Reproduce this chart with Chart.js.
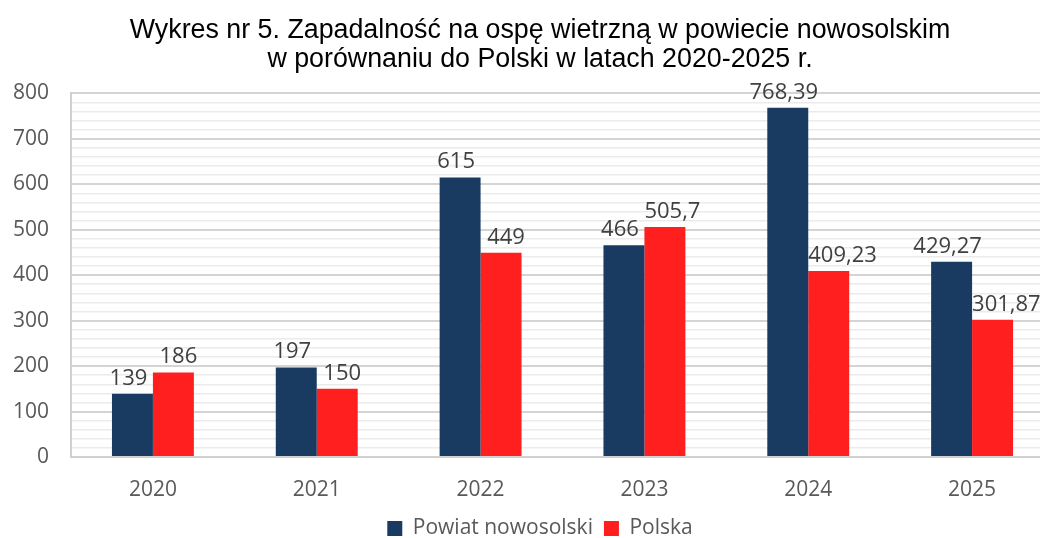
<!DOCTYPE html>
<html>
<head>
<meta charset="utf-8">
<script src="https://cdn.jsdelivr.net/npm/chart.js@4"></script>
<style>
    html, body { margin: 0; padding: 0; background: #fff; overflow: hidden; }
    #wrap { width: 1080px; height: 549px; position: relative; }
</style>
</head>
<body>
<div id="wrap"><canvas id="chart"></canvas></div>
<script>
// dane
const years = ['2020', '2021', '2022', '2023', '2024', '2025'];
const powiat = [139, 197, 615, 466, 768.39, 429.27];
const polska = [186, 150, 449, 505.7, 409.23, 301.87];
const titleLines = [
    'Wykres nr 5. Zapadalność na ospę wietrzną w powiecie nowosolskim',
    'w porównaniu do Polski w latach 2020-2025 r.'
];

const labelFont = '"Open Sans", "Noto Sans", sans-serif';

// etykiety nad słupkami (granatowe lekko w lewo, czerwone w prawo)
const valueLabels = {
    id: 'valueLabels',
    afterDatasetsDraw(chart) {
        const ctx = chart.ctx;
        ctx.save();
        ctx.font = '22px ' + labelFont;
        ctx.fillStyle = '#404040';
        ctx.textAlign = 'center';
        ctx.textBaseline = 'alphabetic';
        chart.data.datasets.forEach((ds, i) => {
            chart.getDatasetMeta(i).data.forEach((bar, j) => {
                const txt = String(ds.data[j]).replace('.', ',');
                const w = ctx.measureText(txt).width;
                const left = bar.x - bar.width / 2;
                let x = bar.x - 4;
                if (i === 1) x = Math.max(bar.x + 5, left + w / 2);
                ctx.fillText(txt, x, bar.y - 9);
            });
        });
        ctx.restore();
    }
};

new Chart(document.getElementById('chart'), {
    type: 'bar',
    data: {
        labels: years,
        datasets: [
            { label: 'Powiat nowosolski', data: powiat, backgroundColor: '#193B62' },
            { label: 'Polska', data: polska, backgroundColor: '#FF1F1F' }
        ]
    },
    options: {
        responsive: true,
        maintainAspectRatio: false,
        animation: false,
        layout: { padding: 0 },
        datasets: { bar: { barPercentage: 1, categoryPercentage: 0.5 } },
        scales: {
            x: {
                grid: { display: false, drawTicks: false },
                border: { color: '#d0d0d0', width: 2 },
                ticks: { color: '#595959', font: { family: labelFont, size: 21 }, padding: 20 },
                afterFit: (scale) => { scale.height = 50; }
            },
            y: {
                min: 0,
                max: 800,
                afterFit: (scale) => { scale.width = 71; },
                ticks: {
                    stepSize: 20,
                    autoSkip: false,
                    padding: 22,
                    color: '#595959',
                    font: { family: labelFont, size: 21 },
                    callback: (v) => (v % 100 === 0 ? v : '')
                },
                grid: {
                    drawTicks: false,
                    color: (c) => (c.tick && c.tick.value % 100 === 0 ? '#d4d4d4' : '#ebebeb'),
                    lineWidth: (c) => (c.tick && c.tick.value % 100 === 0 ? 2 : 1.5)
                },
                border: { color: '#d0d0d0', width: 2 }
            },
            // pusta oś po prawej - wykres wychodzi poza kadr jak w oryginale
            yRight: {
                position: 'right',
                grid: { display: false, drawTicks: false },
                ticks: { display: false },
                border: { display: false },
                afterFit: (scale) => { scale.width = 26; }
            }
        },
        plugins: {
            title: {
                display: true,
                text: titleLines,
                color: '#000',
                font: { family: '"Liberation Sans", Arial, sans-serif', size: 26.8, weight: 'normal', lineHeight: 1.05 },
                padding: { top: 17, bottom: 20 }
            },
            legend: {
                position: 'bottom',
                labels: {
                    color: '#595959',
                    font: { family: labelFont, size: 21 },
                    boxWidth: 15,
                    boxHeight: 15,
                    padding: 11
                }
            },
            tooltip: { enabled: false }
        }
    },
    plugins: [valueLabels]
});
</script>
</body>
</html>
